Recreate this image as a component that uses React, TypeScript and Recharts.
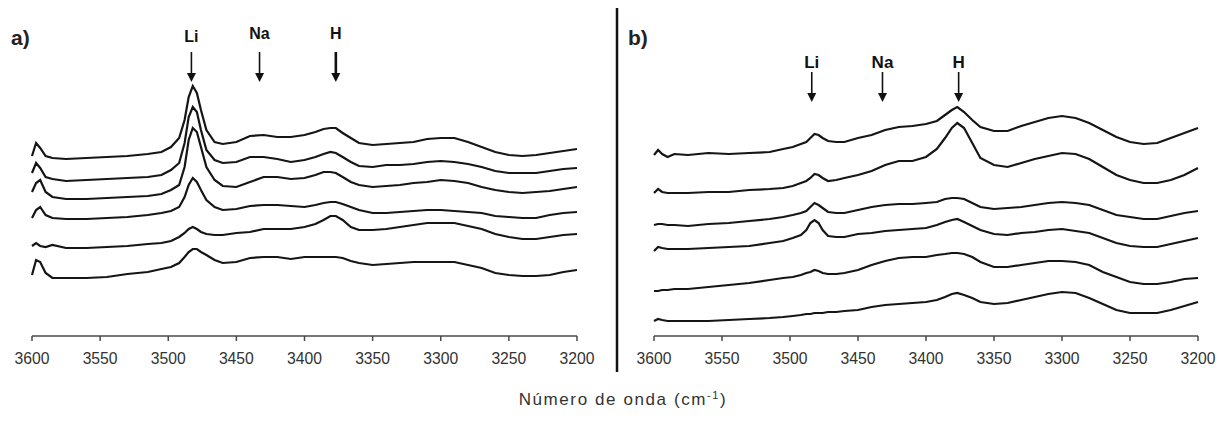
import React from 'react';
import { LineChart, Line, XAxis, YAxis, ReferenceDot } from 'recharts';

// wavenumber grid (cm-1), denser around the sharp bands
const wavenumbers = [
  3600, 3597, 3594, 3590, 3585, 3575, 3560, 3545, 3530, 3515, 3505, 3498, 3492, 3488, 3485, 3482, 3479,
  3476, 3472, 3466, 3460, 3450, 3440, 3430, 3420, 3410, 3400, 3392, 3386, 3381, 3377, 3372, 3366, 3360,
  3350, 3340, 3330, 3320, 3310, 3300, 3290, 3280, 3270, 3260, 3250, 3240, 3230, 3220, 3210, 3200,
];

const xTicks = [3600, 3550, 3500, 3450, 3400, 3350, 3300, 3250, 3200];

// panel a) spectra, top to bottom (offset absorbance, arbitrary units)
const a1 = [180, 193, 188, 180, 178, 177, 178, 179, 180, 182, 184, 189, 198, 216, 239, 250, 243, 226, 206, 194, 192, 194, 200, 201, 199, 199, 201, 204, 207, 208, 208, 203, 198, 193, 191, 192, 193, 194, 197, 198, 198, 194, 189, 184, 181, 180, 181, 183, 185, 187];
const a2 = [163, 173, 168, 159, 157, 155, 156, 157, 158, 159, 161, 166, 173, 193, 219, 229, 224, 206, 186, 176, 173, 174, 179, 179, 177, 174, 176, 179, 182, 184, 183, 179, 174, 170, 169, 171, 171, 172, 174, 175, 174, 172, 169, 165, 163, 163, 163, 165, 167, 168];
const a3 = [144, 153, 156, 144, 139, 137, 137, 138, 139, 140, 142, 146, 151, 169, 196, 208, 204, 189, 169, 156, 150, 149, 154, 159, 159, 157, 158, 161, 164, 164, 163, 159, 154, 151, 149, 150, 151, 153, 154, 156, 155, 153, 149, 146, 144, 143, 144, 145, 147, 149];
const a4 = [118, 126, 129, 121, 118, 117, 117, 118, 119, 121, 123, 125, 129, 139, 151, 158, 154, 146, 136, 129, 126, 127, 130, 131, 131, 130, 129, 131, 133, 134, 134, 132, 129, 126, 123, 123, 124, 125, 126, 126, 125, 124, 123, 120, 119, 118, 118, 121, 123, 124];
const a5 = [90, 93, 90, 89, 91, 88, 88, 89, 90, 92, 93, 95, 99, 103, 107, 109, 107, 104, 102, 101, 101, 103, 104, 107, 107, 107, 109, 112, 116, 120, 120, 116, 109, 106, 106, 107, 109, 111, 113, 113, 113, 110, 107, 102, 99, 97, 97, 99, 101, 102];
const a6 = [61, 76, 74, 63, 58, 58, 58, 59, 62, 64, 67, 69, 73, 79, 84, 87, 87, 84, 81, 76, 73, 74, 78, 79, 79, 77, 79, 79, 79, 79, 79, 78, 75, 73, 71, 72, 73, 74, 74, 74, 74, 71, 68, 63, 61, 60, 60, 61, 64, 66];

// panel b) spectra, top to bottom
const b1 = [181, 186, 182, 179, 182, 181, 183, 182, 183, 184, 187, 189, 192, 194, 198, 202, 201, 198, 195, 194, 194, 198, 201, 206, 209, 210, 212, 215, 221, 226, 229, 224, 216, 209, 205, 205, 210, 214, 218, 220, 218, 213, 206, 199, 194, 192, 193, 198, 203, 208];
const b2 = [143, 147, 144, 143, 143, 143, 144, 144, 146, 147, 148, 150, 153, 155, 158, 162, 161, 158, 155, 156, 158, 161, 165, 171, 175, 175, 179, 187, 198, 208, 213, 208, 193, 178, 171, 169, 173, 177, 180, 183, 182, 177, 169, 161, 156, 153, 153, 156, 161, 168];
const b3 = [111, 112, 112, 111, 111, 110, 112, 113, 115, 117, 119, 121, 123, 125, 129, 133, 131, 128, 124, 123, 123, 126, 129, 131, 132, 132, 133, 134, 137, 138, 138, 137, 133, 129, 127, 128, 129, 131, 133, 134, 133, 131, 126, 121, 119, 117, 117, 120, 123, 125];
const b4 = [85, 89, 88, 87, 87, 87, 88, 89, 90, 93, 95, 98, 101, 106, 113, 116, 113, 106, 100, 99, 99, 102, 103, 105, 106, 107, 108, 111, 114, 116, 117, 114, 110, 106, 102, 101, 103, 104, 106, 107, 105, 103, 98, 93, 90, 89, 89, 92, 95, 98];
const b5 = [45, 45, 46, 46, 47, 47, 49, 51, 53, 56, 58, 59, 61, 63, 64, 66, 65, 63, 62, 62, 63, 66, 71, 75, 78, 79, 79, 81, 82, 83, 83, 82, 79, 74, 69, 69, 71, 73, 75, 75, 74, 71, 64, 59, 54, 52, 52, 54, 57, 58];
const b6 = [15, 17, 16, 15, 15, 15, 15, 16, 17, 18, 19, 20, 21, 22, 22, 23, 23, 23, 24, 24, 25, 26, 29, 31, 32, 33, 34, 36, 39, 42, 43, 41, 38, 34, 32, 33, 36, 39, 42, 44, 43, 38, 32, 26, 23, 23, 23, 26, 30, 34];

// band markers
const bandLabels = ['Li', 'Na', 'H'];
const bandsA = [3483, 3433, 3377];
const bandsB = [3484, 3432, 3376];

const seriesA = [a1, a2, a3, a4, a5, a6];
const seriesB = [b1, b2, b3, b4, b5, b6];

const buildRows = (series: number[][]) =>
  wavenumbers.map((w, i) => {
    const row: Record<string, number> = { w };
    series.forEach((s, k) => {
      row['s' + k] = s[i];
    });
    return row;
  });

const dataA = buildRows(seriesA);
const dataB = buildRows(seriesB);

const FONT = '"Liberation Sans", Arial, sans-serif';
const Y_MAX = 336;

const Tick = (props: any) => {
  const { x, y, payload } = props;
  return (
    <text
      x={x}
      y={y + 21}
      textAnchor="middle"
      fontSize={17}
      fill="#333"
      fontFamily={FONT}
      textLength={35}
      lengthAdjust="spacingAndGlyphs"
    >
      {payload.value}
    </text>
  );
};

const arrowShape = (label: string, gap: number, bold: boolean, sw: number) => (props: any) => {
  const { cx, cy } = props;
  return (
    <g>
      <line x1={cx} y1={cy - 30} x2={cx} y2={cy - 7} stroke="#111" strokeWidth={sw} />
      <polygon points={`${cx - 4.5},${cy - 9} ${cx + 4.5},${cy - 9} ${cx},${cy}`} fill="#111" />
      <text
        x={cx}
        y={cy - gap}
        textAnchor="middle"
        fontSize={bold ? 17 : 16}
        fontWeight={bold ? 700 : 600}
        fill="#111"
        fontFamily={FONT}
      >
        {label}
      </text>
    </g>
  );
};

interface PanelProps {
  data: Record<string, number>[];
  bands: number[];
  tipY: number;
  gaps: number[];
  bold: boolean;
  width: number;
  left: number;
  right: number;
}

const Panel = ({ data, bands, tipY, gaps, bold, width, left, right }: PanelProps) => (
  <LineChart width={width} height={376} data={data} margin={{ top: 0, right, bottom: 0, left }}>
    <XAxis
      dataKey="w"
      type="number"
      domain={[3200, 3600]}
      reversed
      ticks={xTicks}
      interval={0}
      height={40}
      tickSize={5}
      tick={<Tick />}
      axisLine={{ stroke: '#4a4a4a', strokeWidth: 1.5 }}
      tickLine={{ stroke: '#4a4a4a', strokeWidth: 1.5 }}
    />
    <YAxis hide type="number" domain={[0, Y_MAX]} />
    {[0, 1, 2, 3, 4, 5].map((k) => (
      <Line
        key={k}
        dataKey={'s' + k}
        type="linear"
        stroke="#151515"
        strokeWidth={2.2}
        dot={false}
        isAnimationActive={false}
      />
    ))}
    {bands.map((b, i) => (
      <ReferenceDot
        key={bandLabels[i]}
        x={b}
        y={tipY}
        r={0}
        ifOverflow="visible"
        shape={arrowShape(bandLabels[i], gaps[i], bold, !bold && i === 2 ? 2.6 : 1.6)}
      />
    ))}
  </LineChart>
);

export default function App() {
  return (
    <div style={{ position: 'absolute', left: 0, top: 0, width: 1226, height: 421, background: '#fff' }}>
      <div style={{ position: 'absolute', left: 0, top: 0 }}>
        <Panel data={dataA} bands={bandsA} tipY={254} gaps={[40, 43, 43]} bold={false} width={610} left={32} right={33} />
      </div>
      <div style={{ position: 'absolute', left: 610, top: 0 }}>
        <Panel data={dataB} bands={bandsB} tipY={234} gaps={[34, 34, 34]} bold width={616} left={44} right={28} />
      </div>
      <svg width={1226} height={421} style={{ position: 'absolute', left: 0, top: 0, pointerEvents: 'none' }}>
        <line x1={617} y1={8} x2={617} y2={372} stroke="#111" strokeWidth={2.5} />
        <text x={11} y={45} fontSize={21} fontWeight={700} fill="#222" fontFamily={FONT}>
          a)
        </text>
        <text x={628} y={45} fontSize={21} fontWeight={700} fill="#222" fontFamily={FONT}>
          b)
        </text>
        <text x={623} y={405} textAnchor="middle" fontSize={17} fill="#333" fontFamily={FONT} letterSpacing={1.6}>
          Número de onda (cm
          <tspan dy={-6} fontSize={11}>
            -1
          </tspan>
          <tspan dy={6}>)</tspan>
        </text>
      </svg>
    </div>
  );
}
